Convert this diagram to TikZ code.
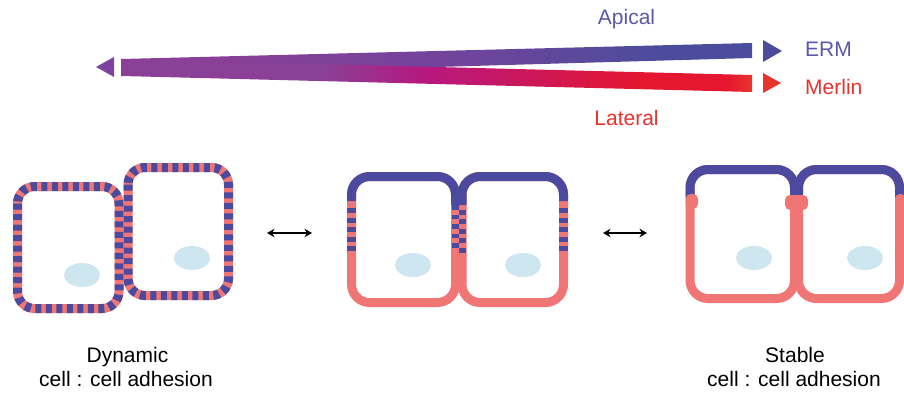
\documentclass[tikz,border=0pt]{standalone}
\usepackage{fontspec}
\setmainfont{Liberation Sans}
\usetikzlibrary{arrows.meta}

\definecolor{purp}{RGB}{138,64,150}
\definecolor{purphead}{RGB}{125,68,158}
\definecolor{ermblue}{RGB}{76,76,156}
\definecolor{ermmid}{RGB}{112,68,156}
\definecolor{latmag}{RGB}{182,24,128}
\definecolor{merred}{RGB}{228,22,48}
\definecolor{merend}{RGB}{232,52,46}
\definecolor{txtblue}{RGB}{90,88,168}
\definecolor{txtred}{RGB}{232,50,45}
\definecolor{cellpink}{RGB}{239,118,116}
\definecolor{cellblue}{RGB}{75,74,158}
\definecolor{nuccol}{RGB}{205,230,240}

% colour runs of the two bands (25bp..75bp spans the band)
\pgfdeclarehorizontalshading{ermband}{100bp}{color(0bp)=(purp); color(32bp)=(purp);
  color(52bp)=(ermmid); color(68bp)=(ermblue); color(100bp)=(ermblue)}
\pgfdeclarehorizontalshading{lateralband}{100bp}{color(0bp)=(purp); color(41bp)=(purp);
  color(49bp)=(latmag); color(66bp)=(merred); color(73bp)=(merred); color(75bp)=(merend);
  color(100bp)=(merend)}

\begin{document}
\begin{tikzpicture}[x=1pt,y=-1pt,
  pinkwall/.style={draw=cellpink, line width=9pt},
  bluewall/.style={draw=cellblue, line width=9pt},
  mixwall/.style={draw=cellblue, line width=9pt, dash pattern=on 6pt off 4.5pt},
  stripe/.style={fill=cellblue},
  knob/.style={fill=cellpink, rounded corners=5pt},
  nucleus/.style={fill=nuccol},
  lbl/.style={inner sep=0pt, font=\fontsize{21}{25}\selectfont, anchor=base},
  toggle/.style={{Stealth[length=7.5pt,width=8.5pt]}-{Stealth[length=7.5pt,width=8.5pt]}, line width=1.8pt, black}]
\useasboundingbox (0,0) rectangle (904,393);

% ---- polarity bands ----
\fill[purphead] (96,67) -- (114,57) -- (114,77) -- cycle;
\shade[shading=ermband] (121,59) -- (752,43) -- (752,58) -- (121,76) -- cycle;
\shade[shading=lateralband] (121,59) -- (752,75) -- (752,92) -- (121,76) -- cycle;
\fill[ermblue] (763,40) -- (782,51) -- (763,62) -- cycle;
\fill[merend] (763,73) -- (781,83) -- (763,93) -- cycle;

\node[lbl, text=txtblue] (apical) at (626.5,25) {Apical};
\node[lbl, text=txtblue, anchor=base west] (erm) at (805,57) {ERM};
\node[lbl, text=txtred, anchor=base west] (merlin) at (805,95) {Merlin};
\node[lbl, text=txtred] (lateral) at (626.5,125) {Lateral};

% ---- dynamic adhesion: mixed membrane ----
\draw[pinkwall, rounded corners=17pt] (17.5,186.5) rectangle (119,308.5);
\draw[mixwall, rounded corners=17pt] (17.5,186.5) rectangle (119,308.5);
\draw[pinkwall, rounded corners=17pt] (128,167.5) rectangle (228.5,295.5);
\draw[mixwall, rounded corners=17pt] (128,167.5) rectangle (228.5,295.5);
\fill[nucleus] (82,275) ellipse [x radius=18pt, y radius=12pt];
\fill[nucleus] (192,258) ellipse [x radius=18pt, y radius=12pt];

% ---- intermediate ----
\draw[pinkwall, rounded corners=18pt] (351.5,176.5) rectangle (455.5,302.5);
\draw[pinkwall, rounded corners=18pt] (462,176.5) rectangle (563.5,302.5);
\draw[bluewall, rounded corners=18pt] (351.5,201) -- (351.5,176.5) -- (455.5,176.5) -- (455.5,205);
\draw[bluewall, rounded corners=18pt] (462,205) -- (462,176.5) -- (563.5,176.5) -- (563.5,201);
\foreach \k in {0,...,4} {
  \fill[stripe] (347,208+9.5*\k) rectangle (356,213+9.5*\k);
  \fill[stripe] (559,208+9.5*\k) rectangle (568,213+9.5*\k);
  \fill[stripe] (451.5,205+9.5*\k) rectangle (458.5,209.75+9.5*\k);
  \fill[stripe] (458.5,209.75+9.5*\k) rectangle (466,214.5+9.5*\k);
}
\fill[nucleus] (413,265) ellipse [x radius=18pt, y radius=12pt];
\fill[nucleus] (523,265) ellipse [x radius=18pt, y radius=12pt];

% ---- stable adhesion: polarised membrane ----
\draw[pinkwall, rounded corners=18pt] (690,169.5) rectangle (794.5,298.5);
\draw[pinkwall, rounded corners=18pt] (798.5,169.5) rectangle (899.5,298.5);
\draw[bluewall, rounded corners=18pt] (690,197) -- (690,169.5) -- (794.5,169.5) -- (794.5,197);
\draw[bluewall, rounded corners=18pt] (798.5,197) -- (798.5,169.5) -- (899.5,169.5) -- (899.5,197);
\fill[knob] (685.5,194) rectangle (698,209);
\fill[knob] (785,195) rectangle (808,210);
\fill[knob] (895,194) rectangle (906,209);
\fill[nucleus] (754,258) ellipse [x radius=18pt, y radius=12pt];
\fill[nucleus] (865,258) ellipse [x radius=18pt, y radius=12pt];

% ---- transitions ----
\coordinate (t1a) at (267,233);
\coordinate (t1b) at (312,233);
\coordinate (t2a) at (603,233);
\coordinate (t2b) at (647,233);
\draw[toggle] (t1a) -- (t1b);
\draw[toggle] (t2a) -- (t2b);

% ---- captions ----
\node[lbl] (dyn) at (127.5,362) {Dynamic};
\node[lbl] (dyncap) at (126,386) {cell : cell adhesion};
\node[lbl] (stab) at (795,362) {Stable};
\node[lbl] (stabcap) at (794,386) {cell : cell adhesion};
\end{tikzpicture}
\end{document}
